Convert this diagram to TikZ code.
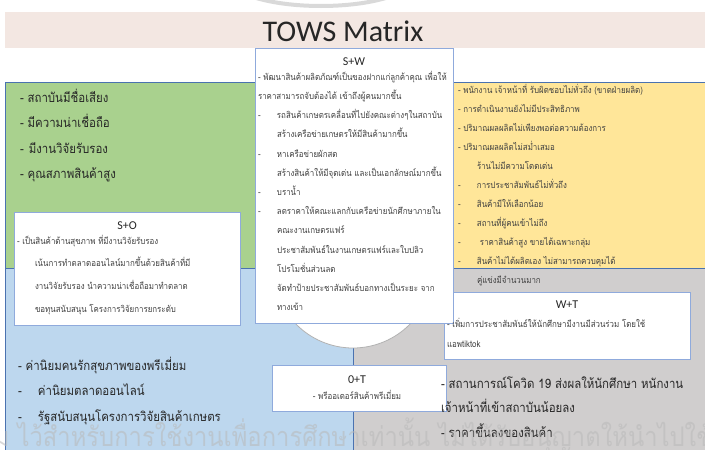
\documentclass[tikz,border=0pt]{standalone}
\usepackage{fontspec}
\setmainfont{Carlito}
\newfontfamily\thai[Script=Thai,FakeStretch=0.88]{Loma}
\definecolor{bandpink}{HTML}{F3E7E2}
\definecolor{qgreen}{HTML}{A9D18E}
\definecolor{qyellow}{HTML}{FFE699}
\definecolor{qblue}{HTML}{BDD7EE}
\definecolor{qgray}{HTML}{D0CECE}
\definecolor{qedge}{HTML}{4A72B0}
\definecolor{boxedge}{HTML}{8FAADC}
\definecolor{txt}{HTML}{262626}
\begin{document}
\begin{tikzpicture}[x=1pt,y=-1pt,
  ln/.style={anchor=base west, inner sep=0pt, outer sep=0pt, text=txt},
  ctr/.style={anchor=base, inner sep=0pt, outer sep=0pt, text=txt},
  fbig/.style={font=\thai\fontsize{13}{15}\selectfont},
  fsm/.style={font=\thai\fontsize{9}{11}\selectfont, text=black!75},
  flat/.style={font=\fontsize{12}{14}\selectfont},
  box/.style={draw=boxedge, fill=white, line width=0.8pt, inner sep=0pt, anchor=north west},
  quad/.style={draw=qedge, line width=1pt}
]
\useasboundingbox (0,0) rectangle (705,450);
\fill[white] (0,0) rectangle (705,450);
% top arc remnant
\draw[gray!30, line width=4pt] (253,-3) .. controls (290,9) and (352,9) .. (389,-3);
% title band
\fill[bandpink] (5,12) rectangle (705,48);
\node[ctr, font=\fontsize{30}{32}\selectfont] (title) at (343,41) {TOWS Matrix};
% quadrants
\filldraw[quad, fill=qgreen] (5,82) rectangle (353,268);
\filldraw[quad, fill=qyellow] (353,82) rectangle (708,268);
\filldraw[quad, fill=qblue] (5,268) rectangle (353,455);
\filldraw[quad, fill=qgray] (353,268) rectangle (708,455);
% centre circle
\filldraw[fill=white, draw=gray!60, line width=0.8pt] (353,268) circle[radius=80];
% boxes
\node[box, minimum width=246pt, minimum height=67pt] (wtbox) at (444,292) {};
\node[box, minimum width=198pt, minimum height=275pt] (swbox) at (255,48) {};
\node[box, minimum width=226pt, minimum height=113pt] (sobox) at (14,212) {};
\node[box, minimum width=174pt, minimum height=46pt] (otbox) at (272,365) {};
% green (S)
\node[ln, fbig] (g1) at (20,102) {- สถาบันมีชื่อเสียง};
\node[ln, fbig] (g2) at (20,127) {- มีความน่าเชื่อถือ};
\node[ln, fbig] (g3) at (20,153) {-\hspace{5pt}มีงานวิจัยรับรอง};
\node[ln, fbig] (g4) at (20,178) {- คุณสภาพสินค้าสูง};
% yellow (W)
\node[ln, fsm] (y1) at (458,93) {- พนักงาน เจ้าหน้าที่ รับผิดชอบไม่ทั่วถึง (ขาดฝ่ายผลิต)};
\node[ln, fsm] (y2) at (458,112) {- การดำเนินงานยังไม่มีประสิทธิภาพ};
\node[ln, fsm] (y3) at (458,131) {- ปริมาณผลผลิตไม่เพียงพอต่อความต้องการ};
\node[ln, fsm] (y4) at (458,150) {- ปริมาณผลผลิตไม่สม่ำเสมอ};
\node[ln, fsm] (y5) at (477,169) {ร้านไม่มีความโดดเด่น};
\node[ln, fsm] (y6) at (458,188) {\makebox[19pt][l]{-}การประชาสัมพันธ์ไม่ทั่วถึง};
\node[ln, fsm] (y7) at (458,207) {\makebox[19pt][l]{-}สินค้ามีให้เลือกน้อย};
\node[ln, fsm] (y8) at (458,226) {\makebox[19pt][l]{-}สถานที่ผู้คนเข้าไม่ถึง};
\node[ln, fsm] (y9) at (458,245) {\makebox[22pt][l]{-}ราคาสินค้าสูง ขายได้เฉพาะกลุ่ม};
\node[ln, fsm] (y10) at (458,264) {\makebox[19pt][l]{-}สินค้าไม่ได้ผลิตเอง ไม่สามารถควบคุมได้};
% S+W box
\node[ctr, flat] (sw) at (354,65) {S+W};
\node[ln, fsm] (sw0) at (258,80) {- พัฒนาสินค้าผลิตภัณฑ์เป็นของฝากแก่ลูกค้าคุณ เพื่อให้};
\node[ln, fsm] (sw1) at (258,99) {ราคาสามารถจับต้องได้ เข้าถึงผู้คนมากขึ้น};
\node[ln, fsm] (sw2) at (258,118) {\makebox[19pt][l]{-}รถสินค้าเกษตรเคลื่อนที่ไปยังคณะต่างๆในสถาบัน};
\node[ln, fsm] (sw3) at (277,137) {สร้างเครือข่ายเกษตรให้มีสินค้ามากขึ้น};
\node[ln, fsm] (sw4) at (258,157) {\makebox[19pt][l]{-}หาเครือข่ายผักสด};
\node[ln, fsm] (sw5) at (277,176) {สร้างสินค้าให้มีจุดเด่น และเป็นเอกลักษณ์มากขึ้น};
\node[ln, fsm] (sw6) at (258,195) {\makebox[19pt][l]{-}บราน้ำ};
\node[ln, fsm] (sw7) at (258,214) {\makebox[19pt][l]{-}ลดราคาให้คณะแลกกับเครือข่ายนักศึกษาภายใน};
\node[ln, fsm] (sw8) at (277,233) {คณะงานเกษตรแฟร์};
\node[ln, fsm] (sw9) at (277,253) {ประชาสัมพันธ์ในงานเกษตรแฟร์และใบปลิว};
\node[ln, fsm] (sw10) at (277,272) {โปรโมชั่นส่วนลด};
\node[ln, fsm] (sw11) at (277,291) {จัดทำป้ายประชาสัมพันธ์บอกทางเป็นระยะ จาก};
\node[ln, fsm] (sw12) at (277,310) {ทางเข้า};
% S+O box
\node[ctr, flat] (so) at (127,229) {S+O};
\node[ln, fsm] (so1) at (17,244) {- เป็นสินค้าด้านสุขภาพ ที่มีงานวิจัยรับรอง};
\node[ln, fsm] (so2) at (35,266) {เน้นการทำตลาดออนไลน์มากขึ้นด้วยสินค้าที่มี};
\node[ln, fsm] (so3) at (35,289) {งานวิจัยรับรอง นำความน่าเชื่อถือมาทำตลาด};
\node[ln, fsm] (so4) at (35,312) {ขอทุนสนับสนุน โครงการวิจัยการยกระดับ};
% gray (T) region
\node[ln, fsm] (gt0) at (477,283) {คู่แข่งมีจำนวนมาก};
\node[ctr, flat] (wt) at (567,308) {W+T};
\node[ln, fsm] (wt1) at (447,327) {- เพิ่มการประชาสัมพันธ์ให้นักศึกษามีงานมีส่วนร่วม โดยใช้};
\node[ln, fsm] (wt2) at (447,347) {แอพtiktok};
\node[ln, fbig] (gt1) at (441,388) {- สถานการณ์โควิด 19 ส่งผลให้นักศึกษา หนักงาน};
\node[ln, fbig] (gt2) at (441,412) {เจ้าหน้าที่เข้าสถาบันน้อยลง};
\node[ln, fbig] (gt3) at (441,437) {- ราคาขึ้นลงของสินค้า};
% 0+T box
\node[ctr, flat] (ot) at (357,383) {0+T};
\node[ctr, fsm] (ot1) at (357,399) {- พรีออเดอร์สินค้าพรีเมี่ยม};
% blue (O)
\node[ln, fbig] (b1) at (18,370) {- ค่านิยมคนรักสุขภาพของพรีเมี่ยม};
\node[ln, fbig] (b2) at (18,395) {\makebox[20pt][l]{-}ค่านิยมตลาดออนไลน์};
\node[ln, fbig] (b3) at (18,421) {\makebox[20pt][l]{-}รัฐสนับสนุนโครงการวิจัยสินค้าเกษตร};
% watermark
\node[ln, font=\thai\fontsize{27}{27}\selectfont, text=gray!55, opacity=0.55] (wm) at (-6,446) {ม ไว้สำหรับการใช้งานเพื่อการศึกษาเท่านั้น ไม่ได้รับอนุญาตให้นำไปใช้ทาง};
\end{tikzpicture}
\end{document}
